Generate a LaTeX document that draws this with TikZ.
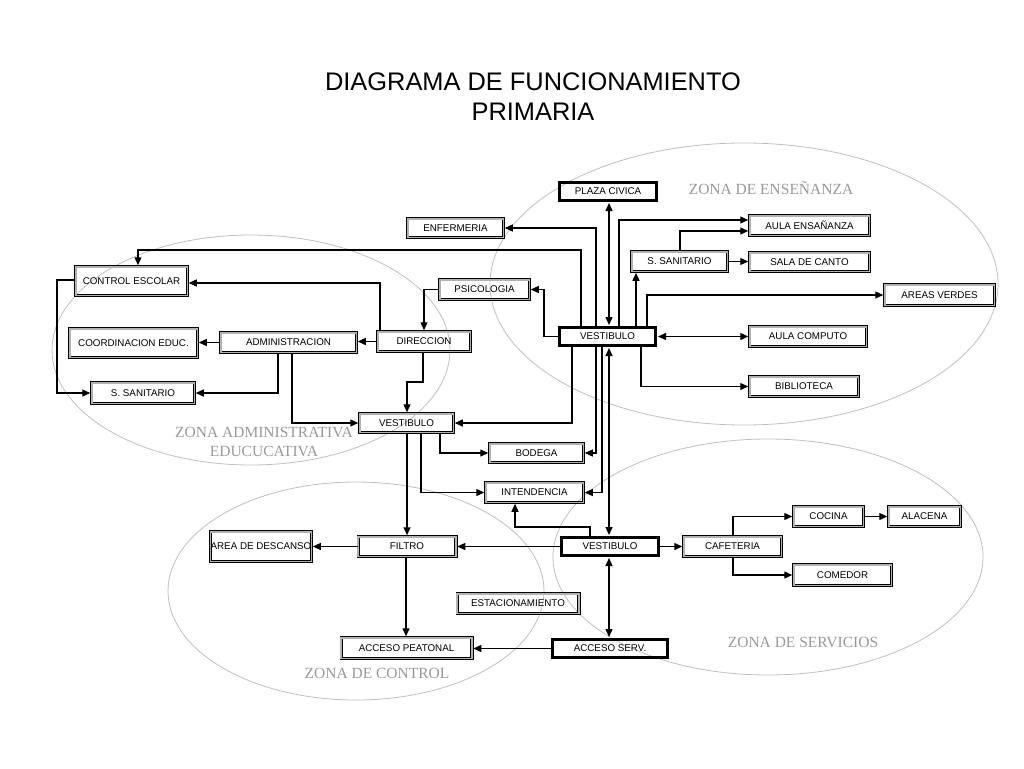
\documentclass[tikz,border=0pt]{standalone}
\usepackage{fontspec}
\setmainfont{Liberation Sans}
\newfontfamily\zonefont{Liberation Serif}
\usetikzlibrary{arrows.meta}
\tikzset{
  boxtext/.style={font=\fontsize{9.8}{10}\selectfont, inner sep=0pt, align=center},
  dbl/.style={boxtext, draw=black, line width=0.9pt, double=gray!60, double distance=1.6pt},
  thk/.style={boxtext, draw=black, line width=3pt},
  con/.style={line width=1.3pt, shorten >=1pt, -{Triangle[length=8pt,width=7pt]}},
  bi/.style={line width=1.3pt, shorten >=1pt, shorten <=1pt, {Triangle[length=8pt,width=7pt]}-{Triangle[length=8pt,width=7pt]}},
  zone/.style={draw=gray!50, line width=0.8pt},
  zlabel/.style={text=gray!80, font=\zonefont\fontsize{15.5}{19}\selectfont, inner sep=0pt, align=center},
  title/.style={font=\fontsize{25.4}{30}\selectfont, inner sep=0pt, align=center}
}
\newcommand\bx[7]{\node[#6, minimum width=#4-3.4, minimum height=#5-3.4] (#1) at (#2,#3) {#7};}
\newcommand\tx[7]{\node[#6, minimum width=#4-3, minimum height=#5-3] (#1) at (#2,#3) {#7};}
\begin{document}
\begin{tikzpicture}[x=1pt,y=-1pt]
\useasboundingbox (0,0) rectangle (1024,768);
% zones
\draw[zone] (744,284) ellipse [x radius=254, y radius=141];
\draw[zone] (251,350) ellipse [x radius=199, y radius=115];
\draw[zone] (356,591) ellipse [x radius=188, y radius=109];
\draw[zone] (768,557) ellipse [x radius=215, y radius=118];
% title
\node[title] (t1) at (533,82) {DIAGRAMA DE FUNCIONAMIENTO};
\node[title] (t2) at (533,112) {PRIMARIA};
% zone labels
\node[zlabel] (zl1) at (771,188) {ZONA DE ENSEÑANZA};
\node[zlabel] (zl2) at (264,442) {ZONA ADMINISTRATIVA\\EDUCUCATIVA};
\node[zlabel] (zl3) at (377,673) {ZONA DE CONTROL};
\node[zlabel] (zl4) at (803,642) {ZONA DE SERVICIOS};
% boxes
\tx{plaza}{608}{191.5}{100}{21}{thk}{PLAZA CIVICA}
\bx{enf}{455.5}{228}{99}{22}{dbl}{ENFERMERIA}
\bx{psic}{484.5}{289.5}{93}{23}{dbl}{PSICOLOGIA}
\bx{dir}{424}{341.5}{96}{23}{dbl}{DIRECCION}
\tx{vA}{607.5}{336.5}{99}{21}{thk}{VESTIBULO}
\bx{ssanR}{679.5}{261.5}{99}{23}{dbl}{S. SANITARIO}
\bx{aulaE}{809.5}{225.5}{123}{23}{dbl}{AULA ENSAÑANZA}
\bx{sala}{809.5}{262}{123}{22}{dbl}{SALA DE CANTO}
\bx{areas}{939.5}{295}{113}{24}{dbl}{AREAS VERDES}
\bx{aulaC}{808}{336.5}{120}{23}{dbl}{AULA COMPUTO}
\bx{bibl}{804}{386.5}{112}{23}{dbl}{BIBLIOTECA}
\bx{ctrl}{131.5}{281}{115}{32}{dbl}{CONTROL ESCOLAR}
\bx{coord}{133.5}{343}{131}{32}{dbl}{COORDINACION EDUC.}
\bx{admin}{288.5}{342.5}{139}{23}{dbl}{ADMINISTRACION}
\bx{ssanL}{143}{393}{106}{24}{dbl}{S. SANITARIO}
\bx{vB}{406.5}{423}{97}{22}{dbl}{VESTIBULO}
\bx{bod}{536.5}{453}{97}{22}{dbl}{BODEGA}
\bx{int}{534.5}{492.5}{101}{23}{dbl}{INTENDENCIA}
\bx{filtro}{407}{546.5}{101}{23}{dbl}{FILTRO}
\tx{vC}{610}{546.5}{100}{21}{thk}{VESTIBULO}
\bx{desc}{261}{546.5}{101}{33}{dbl}{AREA DE DESCANSO}
\bx{estac}{518}{603.5}{125}{23}{dbl}{ESTACIONAMIENTO}
\bx{apeat}{406.5}{648}{134}{24}{dbl}{ACCESO PEATONAL}
\tx{aserv}{610}{648.5}{118}{21}{thk}{ACCESO SERV.}
\bx{cafe}{732.5}{546.5}{101}{23}{dbl}{CAFETERIA}
\bx{cocina}{828.5}{516.5}{73}{23}{dbl}{COCINA}
\bx{alac}{924.5}{516.5}{75}{23}{dbl}{ALACENA}
\bx{comedor}{842.5}{575}{101}{24}{dbl}{COMEDOR}
% connectors from upper vestibulo
\draw[bi] (plaza.south -| 609,0) -- (vA.north -| 609,0);
\draw[con] (vA.north -| 596,0) |- (enf.east);
\draw[con] (vA.north -| 581,0) -- (581,250) -| (ctrl.north -| 138,0);
\draw[con] (vA.west) -- (544,336.5) |- (psic.east);
\draw[con] (vA.north -| 619,0) |- (aulaE.west |- 0,220);
\draw[con] (ssanR.north -| 680,0) |- (aulaE.west |- 0,231);
\draw[con] (ssanR.east) -- (sala.west |- ssanR.east);
\draw[con] (vA.north -| 636,0) -- (ssanR.south -| 636,0);
\draw[con] (vA.north -| 647,0) |- (areas.west);
\draw[bi] (vA.east) -- (aulaC.west);
\draw[con] (vA.south -| 641,0) |- (bibl.west);
\draw[con] (vA.south -| 572,0) |- (vB.east);
\draw[con] (vA.south -| 596,0) |- (bod.east);
\draw[con] (vA.south -| 602,0) |- (int.east);
\draw[bi] (vA.south -| 609,0) -- (vC.north -| 609,0);
\draw[con] (vC.north -| 590,0) -- (590,527) -| (int.south -| 515,0);
% administrative zone
\draw[con] (dir.south -| 423,0) -- (423,382) -| (vB.north -| 407,0);
\draw[con] (vB.south -| 440,0) |- (bod.west);
\draw[con] (vB.south -| 421,0) |- (int.west);
\draw[con] (vB.south -| 407,0) -- (filtro.north -| 407,0);
\draw[con] (admin.south -| 292,0) |- (vB.west);
\draw[con] (admin.south -| 278,0) |- (ssanL.east);
\draw[con] (admin.west) -- (coord.east |- admin.west);
\draw[con] (dir.west) -- (admin.east |- dir.west);
\draw[con] (dir.north -| 380,0) |- (ctrl.east |- 0,283);
\draw[con] (psic.west) -| (dir.north -| 424,0);
\draw[con] (ctrl.west |- 0,280) -- (57,280) |- (ssanL.west);
% lower part
\draw[con] (vC.west) -- (filtro.east);
\draw[con] (filtro.west) -- (desc.east);
\draw[con] (filtro.south -| 406,0) -- (apeat.north -| 406,0);
\draw[bi] (vC.south -| 609,0) -- (aserv.north -| 609,0);
\draw[con] (aserv.west) -- (apeat.east |- aserv.west);
\draw[con] (vC.east) -- (cafe.west);
\draw[con] (cafe.north -| 733,0) |- (cocina.west);
\draw[con] (cafe.south -| 733,0) |- (comedor.west);
\draw[con] (cocina.east) -- (alac.west);
\end{tikzpicture}
\end{document}
